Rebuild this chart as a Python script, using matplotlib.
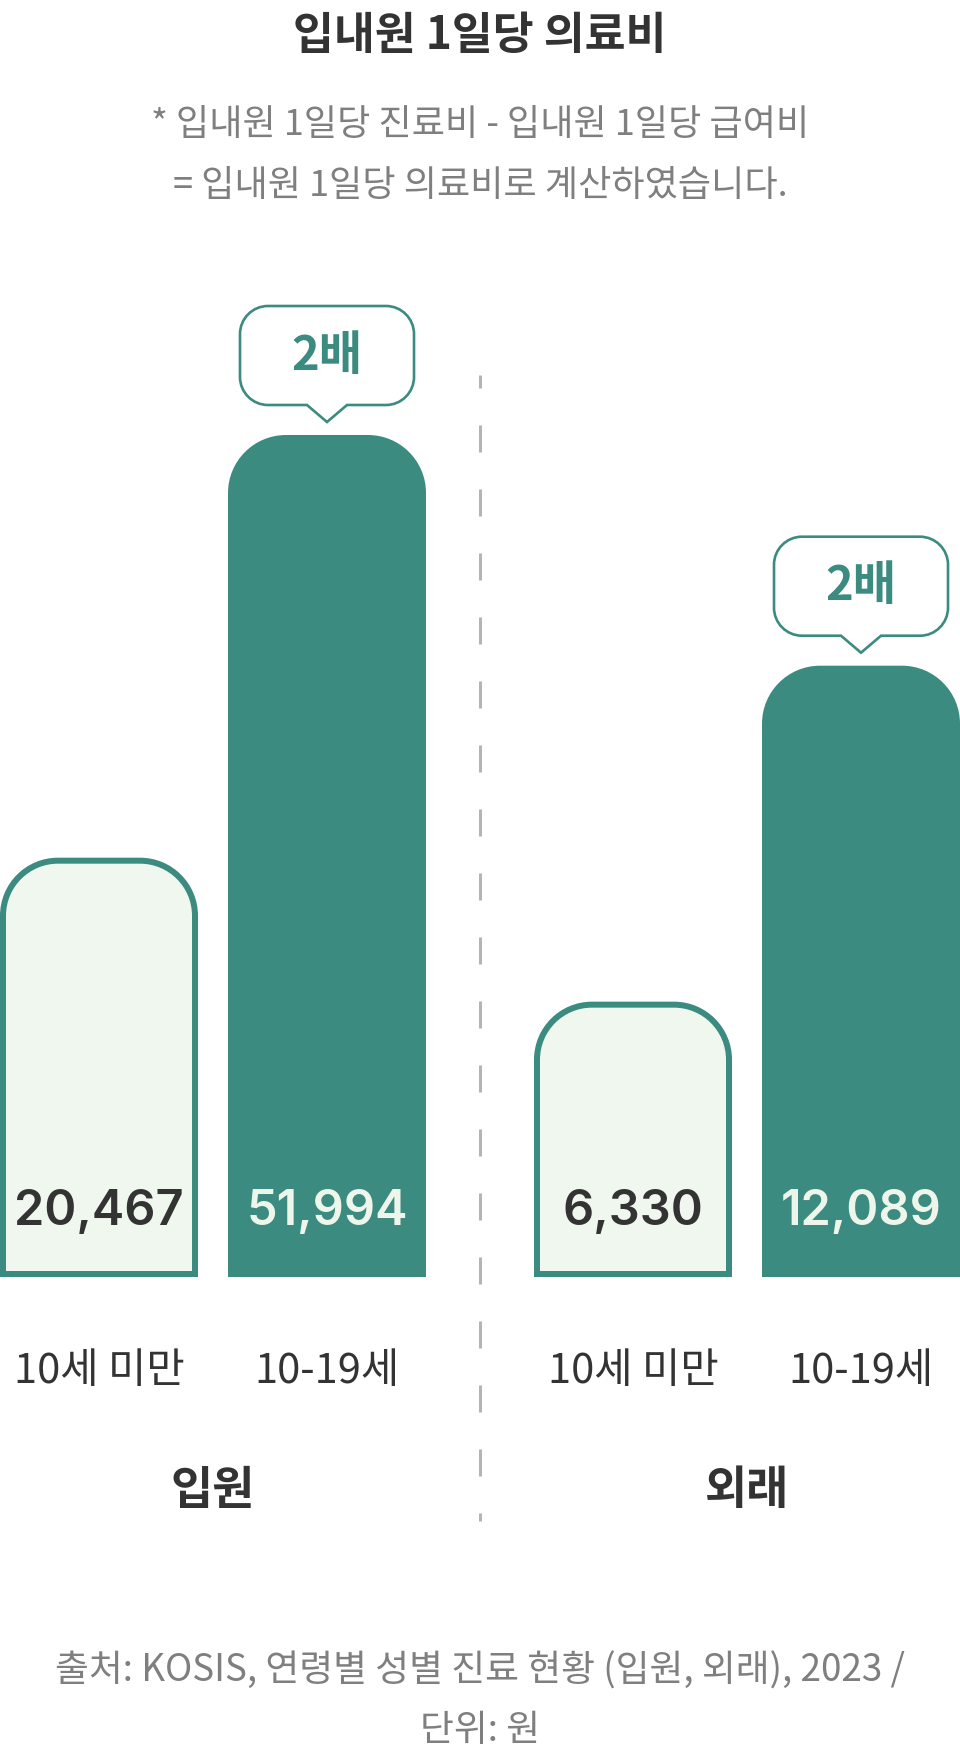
import matplotlib
matplotlib.use("Agg")
import matplotlib.pyplot as plt
from matplotlib.path import Path
from matplotlib.patches import PathPatch

plt.rcParams['font.family'] = ['Noto Sans CJK KR', 'DejaVu Sans']
plt.rcParams['lines.scale_dashes'] = False

# ---------------- data ----------------
groups = ["입원", "외래"]
categories = ["10세 미만", "10-19세"]
values = [[20467, 51994], [6330, 12089]]            # labels shown in bars (원)
bar_height_pct = [[49.8, 100.0], [32.7, 72.6]]      # drawn bar heights (tallest = 100)
ratio_labels = ["2배", "2배"]                        # callout on the 10-19세 bar
title = "입내원 1일당 의료비"
subtitle = ["* 입내원 1일당 진료비 - 입내원 1일당 급여비",
            "= 입내원 1일당 의료비로 계산하였습니다."]
source = ["출처: KOSIS, 연령별 성별 진료 현황 (입원, 외래), 2023 /",
          "단위: 원"]

# ---------------- style ----------------
TEAL = "#3B8B80"
LIGHT = "#F0F7EE"
LIGHT_TXT = "#EEF6EC"
DARK_TXT = "#333333"
GRAY_TXT = "#7F7F7F"
DASH = "#B4B4B4"

W_PX, H_PX = 960, 1761
fig = plt.figure(figsize=(W_PX / 100, H_PX / 100), dpi=100)
ax = fig.add_axes([0, 0, 1, 1])
ax.axis("off")

# layout (pixels)
BAR_PX = 198.0
INNER_STEP = 228.0 / BAR_PX
GROUP_STEP = 534.0 / BAR_PX
BASE_PX = 1277.0          # baseline, from top
PX_PER_UNIT_Y = 842.0 / 100.0

ax.set_xlim(-0.5, -0.5 + W_PX / BAR_PX)
ax.set_ylim(-(H_PX - BASE_PX) / PX_PER_UNIT_Y, BASE_PX / PX_PER_UNIT_Y)


def dx(px):
    return px / BAR_PX


def dy(px):
    return px / PX_PER_UNIT_Y


def rounded_top(x0, x1, y0, y1, r_px):
    rx, ry = dx(r_px), dy(r_px)
    k = 0.5523
    verts = [(x0, y0), (x1, y0), (x1, y1 - ry),
             (x1, y1 - ry + k * ry), (x1 - rx + k * rx, y1), (x1 - rx, y1),
             (x0 + rx, y1),
             (x0 + rx - k * rx, y1), (x0, y1 - ry + k * ry), (x0, y1 - ry),
             (x0, y0)]
    codes = [Path.MOVETO, Path.LINETO, Path.LINETO,
             Path.CURVE4, Path.CURVE4, Path.CURVE4,
             Path.LINETO,
             Path.CURVE4, Path.CURVE4, Path.CURVE4,
             Path.CLOSEPOLY]
    return Path(verts, codes)


def callout(cx, tip_y):
    # shape in pixel offsets from the tip (y up)
    hw, r, ph, pw, bh = 87.0, 28.0, 17.0, 20.0, 99.0
    k = 0.5523
    top = ph + bh
    pts = [(-pw, ph), (0, 0), (pw, ph), (hw - r, ph),
           (hw - r + k * r, ph), (hw, ph + r - k * r), (hw, ph + r),
           (hw, top - r),
           (hw, top - r + k * r), (hw - r + k * r, top), (hw - r, top),
           (-hw + r, top),
           (-hw + r - k * r, top), (-hw, top - r + k * r), (-hw, top - r),
           (-hw, ph + r),
           (-hw, ph + r - k * r), (-hw + r - k * r, ph), (-hw + r, ph),
           (-pw, ph)]
    codes = [Path.MOVETO, Path.LINETO, Path.LINETO, Path.LINETO,
             Path.CURVE4, Path.CURVE4, Path.CURVE4,
             Path.LINETO,
             Path.CURVE4, Path.CURVE4, Path.CURVE4,
             Path.LINETO,
             Path.CURVE4, Path.CURVE4, Path.CURVE4,
             Path.LINETO,
             Path.CURVE4, Path.CURVE4, Path.CURVE4,
             Path.CLOSEPOLY]
    verts = [(cx + dx(px), tip_y + dy(py)) for px, py in pts]
    return Path(verts, codes), tip_y + dy(ph + bh / 2)


R = 58.0
BORDER = 6.0
centers = []
for g, grp in enumerate(groups):
    for i, cat in enumerate(categories):
        xc = g * GROUP_STEP + i * INNER_STEP
        centers.append(xc)
        h = bar_height_pct[g][i]
        v = values[g][i]
        if i == 0:
            ins = BORDER / 2
            p = rounded_top(xc - 0.5 + dx(ins), xc + 0.5 - dx(ins),
                            dy(ins), h - dy(ins), R - ins)
            ax.add_patch(PathPatch(p, facecolor=LIGHT, edgecolor=TEAL,
                                   lw=BORDER * 0.72, joinstyle="miter"))
            tcol = DARK_TXT
        else:
            p = rounded_top(xc - 0.5, xc + 0.5, 0, h, R)
            ax.add_patch(PathPatch(p, facecolor=TEAL, edgecolor="none"))
            tcol = LIGHT_TXT
            cp, cy = callout(xc, h + dy(13))
            ax.add_patch(PathPatch(cp, facecolor="white", edgecolor=TEAL,
                                   lw=1.9, joinstyle="miter"))
            ax.text(xc, cy, ratio_labels[g], ha="center", va="center",
                    fontsize=34, fontweight="bold", color=TEAL)
        ax.text(xc, dy(52), f"{v:,}", ha="center", va="baseline",
                fontsize=35, fontweight="semibold", color=tcol,
                family=["Inter", "Noto Sans CJK KR"])
        ax.text(xc, -dy(1383 - BASE_PX), cat, ha="center", va="baseline",
                fontsize=30, color=DARK_TXT)
    gx = g * GROUP_STEP + INNER_STEP / 2
    ax.text(gx, -dy(1491 - BASE_PX), grp, ha="center", va="center",
            fontsize=33, fontweight="bold", color=DARK_TXT)

# dashed divider between the groups
xd = (centers[1] + centers[2]) / 2
ax.plot([xd, xd], [dy(BASE_PX - 375), -dy(1521 - BASE_PX)], color=DASH,
        lw=3 * 0.72, linestyle=(14 * 0.72, (27 * 0.72, 37 * 0.72)),
        dash_capstyle="butt")

# titles
fig.text(0.5, 1 - 36 / H_PX, title, ha="center", va="center",
         fontsize=32, fontweight="bold", color=DARK_TXT)
for j, line in enumerate(subtitle):
    fig.text(0.5, 1 - (125 + 61 * j) / H_PX, line, ha="center", va="center",
             fontsize=26, color=GRAY_TXT)
for j, line in enumerate(source):
    fig.text(0.5, 1 - (1671 + 59 * j) / H_PX, line, ha="center", va="center",
             fontsize=26.5, color=GRAY_TXT)

fig.savefig("out.png", dpi=100, facecolor="white")
